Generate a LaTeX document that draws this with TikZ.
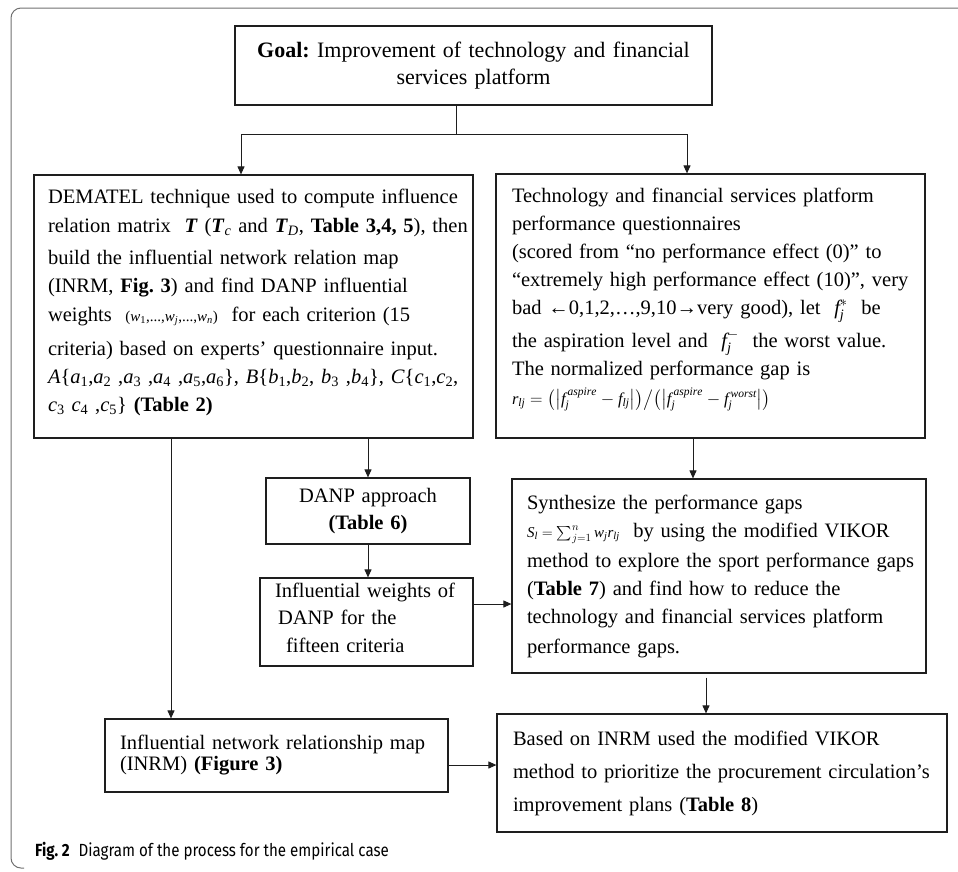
\documentclass[tikz,border=0pt]{standalone}
\usepackage{fontspec}
\usepackage{amsmath}
\setmainfont{Liberation Serif}
\newfontfamily\capfont[FakeStretch=0.86]{Fira Sans}
\usetikzlibrary{arrows.meta,positioning}
\definecolor{edge}{HTML}{1E1E1E}
\definecolor{framegray}{HTML}{707070}
\frenchspacing
\hfuzz=40pt
% extra depth under the last line, lifts a text block inside its box
\newcommand{\liftby}[1]{\rule[-#1]{0pt}{#1}}

\begin{document}
\begin{tikzpicture}[
    x=1pt, y=-1pt,
    box/.style={rectangle, draw=edge, line width=1.2pt, inner ysep=0pt, align=left,
        font=\fontsize{20.5}{28}\selectfont},
    arr/.style={draw=edge, line width=1pt, -{Triangle[length=8pt,width=7pt]}},
    conn/.style={draw=edge, line width=1pt},
]
\useasboundingbox (0,0) rectangle (958,871);

% outer frame
\draw[framegray, line width=1pt, rounded corners=10pt] (958,8) -- (11,8) -- (11,868) -- (24,868);

\node[box, align=center, minimum width=477pt, minimum height=79pt, text width=460pt,
    font=\fontsize{22}{27}\selectfont] (goal) at (473.5,65.5)
    {\textbf{Goal:} Improvement of technology and financial\\services platform};

\node[box, minimum width=439pt, minimum height=263pt, inner xsep=12pt, text width=415pt] (dem) at (253.5,306.5)
    {\hspace*{2pt}DEMATEL technique used to compute influence\\[1pt]
    \mbox{\hspace*{2pt}relation matrix \ \textbf{\textit{T}} (\textbf{\textit{T}}\textsubscript{\textit{c}} and \textbf{\textit{T}}\textsubscript{\textit{D}}, \textbf{Table 3,4, 5}), then}\\[4pt]
    \hspace*{2pt}build the influential network relation map\\
    \hspace*{2pt}(INRM, \textbf{Fig. 3}) and find DANP influential\\[1pt]
    \hspace*{2pt}weights \ {\fontsize{15}{15}\selectfont(\textit{w}\textsubscript{1},...,\textit{w}\textsubscript{\textit{j}},...,\textit{w}\textsubscript{\textit{n}})} \ for each criterion (15\\[6pt]
    \hspace*{2pt}criteria) based on experts’ questionnaire input.\\
    \mbox{\hspace*{2pt}\textit{A}\{\textit{a}\textsubscript{1},\textit{a}\textsubscript{2} ,\textit{a}\textsubscript{3} ,\textit{a}\textsubscript{4} ,\textit{a}\textsubscript{5},\textit{a}\textsubscript{6}\}, \textit{B}\{\textit{b}\textsubscript{1},\textit{b}\textsubscript{2}, \textit{b}\textsubscript{3} ,\textit{b}\textsubscript{4}\}, \textit{C}\{\textit{c}\textsubscript{1},\textit{c}\textsubscript{2},}\\
    \hspace*{2pt}\textit{c}\textsubscript{3} \textit{c}\textsubscript{4} ,\textit{c}\textsubscript{5}\} \textbf{(Table 2)}\liftby{12pt}};

\node[box, minimum width=429pt, minimum height=264pt, inner xsep=12pt, text width=405pt] (perf) at (710.5,306)
    {\hspace*{4pt}Technology and financial services platform\\
    \hspace*{4pt}performance questionnaires\\
    \hspace*{4pt}(scored from “no performance effect (0)” to\\
    \mbox{\hspace*{4pt}“extremely high performance effect (10)”, very}\\
    \mbox{\hspace*{4pt}bad ←0,1,2,…,9,10→very good), let \ $\mathit{f}_{\mathit{j}}^{*}$ \ be}\\[5pt]
    \hspace*{4pt}the aspiration level and \ $\mathit{f}_{\mathit{j}}^{-}$ \ the worst value.\\
    \hspace*{4pt}The normalized performance gap is\\[1pt]
    \hspace*{4pt}\smash{\fontsize{16.5}{17}\selectfont $\mathit{r}_{\mathit{lj}} = \bigl(\bigl|\mathit{f}_{\mathit{j}}^{\,\mathit{aspire}} - \mathit{f}_{\mathit{lj}}\bigr|\bigr)\big/\bigl(\bigl|\mathit{f}_{\mathit{j}}^{\,\mathit{aspire}} - \mathit{f}_{\mathit{j}}^{\,\mathit{worst}}\bigr|\bigr)$}\liftby{20pt}};

\node[box, align=center, minimum width=204pt, minimum height=66pt, text width=190pt,
    font=\fontsize{20.5}{27}\selectfont] (danp) at (368,511)
    {DANP approach\\\textbf{(Table 6)}};

\node[box, minimum width=213pt, minimum height=88pt, inner xsep=8pt, text width=197pt,
    font=\fontsize{20.5}{27.5}\selectfont] (wts) at (366.5,622)
    {\hspace*{7pt}Influential weights of\\
    \hspace*{10pt}DANP for the\\
    \hspace*{18pt}fifteen criteria\liftby{9pt}};

\node[box, minimum width=414pt, minimum height=194pt, inner xsep=12pt, text width=390pt] (syn) at (719,576)
    {\hspace*{3pt}Synthesize the performance gaps\\
    \mbox{\hspace*{3pt}{\fontsize{15}{15}\selectfont $\mathit{S}_{\mathit{l}} = \sum\nolimits_{j=1}^{n} \mathit{w}_{\mathit{j}}\mathit{r}_{\mathit{lj}}$} \ by using the modified VIKOR}\\[2pt]
    \mbox{\hspace*{3pt}method to explore the sport performance gaps}\\
    \hspace*{3pt}(\textbf{Table 7}) and find how to reduce the\\
    \hspace*{3pt}technology and financial services platform\\[2pt]
    \hspace*{3pt}performance gaps.};

\node[box, minimum width=343pt, minimum height=73pt, inner xsep=15pt, text width=313pt,
    font=\fontsize{20.5}{21.5}\selectfont] (inrm) at (276.5,755.5)
    {Influential network relationship map\\(INRM) \textbf{(Figure 3)}\liftby{5pt}};

\node[box, minimum width=450pt, minimum height=118pt, inner xsep=8pt, text width=434pt,
    font=\fontsize{20.5}{33}\selectfont] (vik) at (722,773)
    {\hspace*{8pt}Based on INRM used the modified VIKOR\\
    \mbox{\hspace*{8pt}method to prioritize the procurement circulation’s}\\
    \hspace*{8pt}improvement plans (\textbf{Table 8})};

% Caption
\node[anchor=west, inner sep=0pt, font=\capfont\fontsize{17.6}{18}\selectfont] (cap) at (35,851)
    {\textbf{Fig. 2}\enspace Diagram of the process for the empirical case};

% Connectors
\coordinate (split) at (456,134);
\draw[conn] ([xshift=-17.5pt]goal.south) -- (split);
\draw[arr] (split) -| ([xshift=-12.5pt]dem.north);
\draw[arr] (split) -| ([xshift=-23.5pt]perf.north);
\draw[arr] (dem.south -| danp.north) -- (danp.north);
\draw[arr] (danp.south) -- (danp.south |- wts.north);
\draw[arr] ([yshift=18pt]wts.east) -- ([yshift=18pt]wts.east -| syn.west);
\draw[arr] ([xshift=-17.5pt]perf.south) -- ([xshift=-17.5pt]perf.south |- syn.north);
\draw[arr] ([xshift=-82.5pt]dem.south) -- ([xshift=-82.5pt]dem.south |- inrm.north);
\draw[arr] ([xshift=-13pt,yshift=-4pt]syn.south) -- ([xshift=-13pt]syn.south |- vik.north);
\draw[arr] ([yshift=-9.5pt]inrm.east) -- ([yshift=-9.5pt]inrm.east -| vik.west);

\end{tikzpicture}
\end{document}
